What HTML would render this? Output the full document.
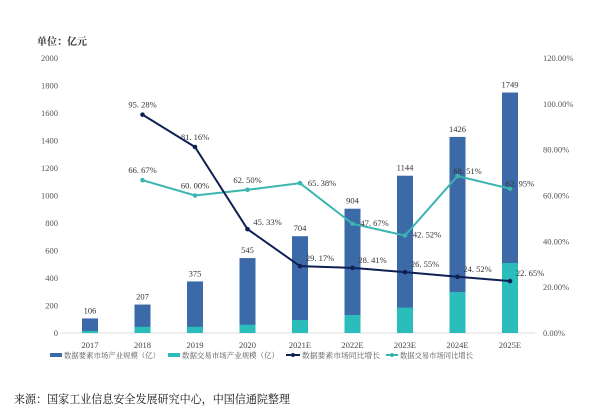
<!DOCTYPE html>
<html><head><meta charset="utf-8"><style>
body{margin:0;background:#fff;width:600px;height:411px;overflow:hidden;font-family:"Liberation Serif","Noto Serif CJK SC",serif}
svg text{font-family:"Liberation Serif","Noto Serif CJK SC",serif}
</style></head><body>
<svg id="c" width="600" height="411" viewBox="0 0 600 411" xmlns="http://www.w3.org/2000/svg">
<text x="37" y="45" font-size="10" font-weight="bold" fill="#333" font-family="Noto Sans CJK SC, sans-serif">单位：亿元</text>
<g id="axes"></g><g id="bars"></g><g id="lines"></g>
<g font-size="7.5" fill="#555">
<rect x="50" y="353" width="12" height="4" fill="#3c6aa8"/>
<text x="64" y="358" textLength="96" lengthAdjust="spacingAndGlyphs">数据要素市场产业规模（亿）</text>
<rect x="168" y="353" width="12" height="4" fill="#2bbcbc"/>
<text x="182" y="358" textLength="97" lengthAdjust="spacingAndGlyphs">数据交易市场产业规模（亿）</text>
<line x1="286" y1="355" x2="300" y2="355" stroke="#0f2154" stroke-width="2"/><circle cx="293" cy="355" r="2" fill="#0f2154"/>
<text x="302" y="358" textLength="78" lengthAdjust="spacingAndGlyphs">数据要素市场同比增长</text>
<line x1="386" y1="355" x2="398" y2="355" stroke="#3ab5b0" stroke-width="2"/><circle cx="392" cy="355" r="2" fill="#3ab5b0"/>
<text x="400" y="358" textLength="73" lengthAdjust="spacingAndGlyphs">数据交易市场同比增长</text>
</g>
<text x="14" y="403" font-size="11.5" fill="#111" font-family="Liberation Sans, Noto Sans CJK SC, sans-serif" textLength="276" lengthAdjust="spacingAndGlyphs">来源：国家工业信息安全发展研究中心，中国信通院整理</text>
</svg>
<script>
const categories=["2017","2018","2019","2020","2021E","2022E","2023E","2024E","2025E"];
const elementSize=[106,207,375,545,704,904,1144,1426,1749];
const tradeSize=[15,45,45,60,95,131,185,298,509];
const elementGrowth=[null,95.28,81.16,45.33,29.17,28.41,26.55,24.52,22.65];
const tradeGrowth=[null,66.67,60.00,62.50,65.38,47.67,42.52,68.51,62.95];
const leftTicks=[0,200,400,600,800,1000,1200,1400,1600,1800,2000];
const rightTicks=[0,20,40,60,80,100,120];
const NS="http://www.w3.org/2000/svg";
const y0=333,yTop=58;
const yL=v=>y0-v/2000*(y0-yTop);
const yR=v=>y0-v/120*(y0-yTop);
const xC=i=>90+i*52.5;
function mk(tag,attrs,parent,txt){const e=document.createElementNS(NS,tag);for(const k in attrs)e.setAttribute(k,attrs[k]);if(txt!=null)e.textContent=txt;parent.appendChild(e);return e;}
const ax=document.getElementById('axes'),bg=document.getElementById('bars'),lg=document.getElementById('lines');
let l=mk('line',{x1:62,x2:535,y1:y0,y2:y0,stroke:'#ddd'},ax);


leftTicks.forEach(v=>{const t=mk('text',{x:58,y:yL(v)+3,'font-size':8.5,'text-anchor':'end',fill:'#555'},ax,v);

});
rightTicks.forEach(v=>{const t=mk('text',{x:543,y:yR(v)+3,'font-size':8.5,fill:'#555'},ax,v.toFixed(2)+'%');

});
categories.forEach((c,i)=>{const t=mk('text',{x:xC(i),y:348,'font-size':8.5,'text-anchor':'middle',fill:'#444'},ax,c);


const b=mk('rect',{x:xC(i)-8,y:yL(elementSize[i]),width:16,height:y0-yL(elementSize[i]),fill:'#3c6aa8'},bg);


const b2=mk('rect',{x:xC(i)-8,y:yL(tradeSize[i]),width:16,height:y0-yL(tradeSize[i]),fill:'#2bbcbc'},bg);


const v=mk('text',{x:xC(i),y:yL(elementSize[i])-5,'font-size':8.5,'text-anchor':'middle',fill:'#333'},bg,elementSize[i]);

});
function series(arr,color,name,offs){let pts=[];arr.forEach((v,i)=>{if(v!=null)pts.push([xC(i),yR(v),v,i]);});
const p=mk('polyline',{points:pts.map(p=>p[0]+','+p[1]).join(' '),fill:'none',stroke:color,'stroke-width':2},lg);


pts.forEach(q=>{const c=mk('circle',{cx:q[0],cy:q[1],r:2.3,fill:color},lg);


const o=offs(q[3]);
const t=mk('text',{x:q[0]+o[0],y:q[1]+o[1],'font-size':8.5,'text-anchor':'middle',fill:'#333'},lg,q[2].toFixed(2).replace('.', '. ')+'%');

});}
series(tradeGrowth,'#3ab5b0','trade-growth',i=>i<=3?[0,-7]:(i==4?[22,3]:(i==5||i==6?[22,2]:[10,-2])));
series(elementGrowth,'#0f2154','element-growth',i=>i<=2?[0,-7]:(i==3?[20,-4]:[20,-5]));
</script>
</body></html>
